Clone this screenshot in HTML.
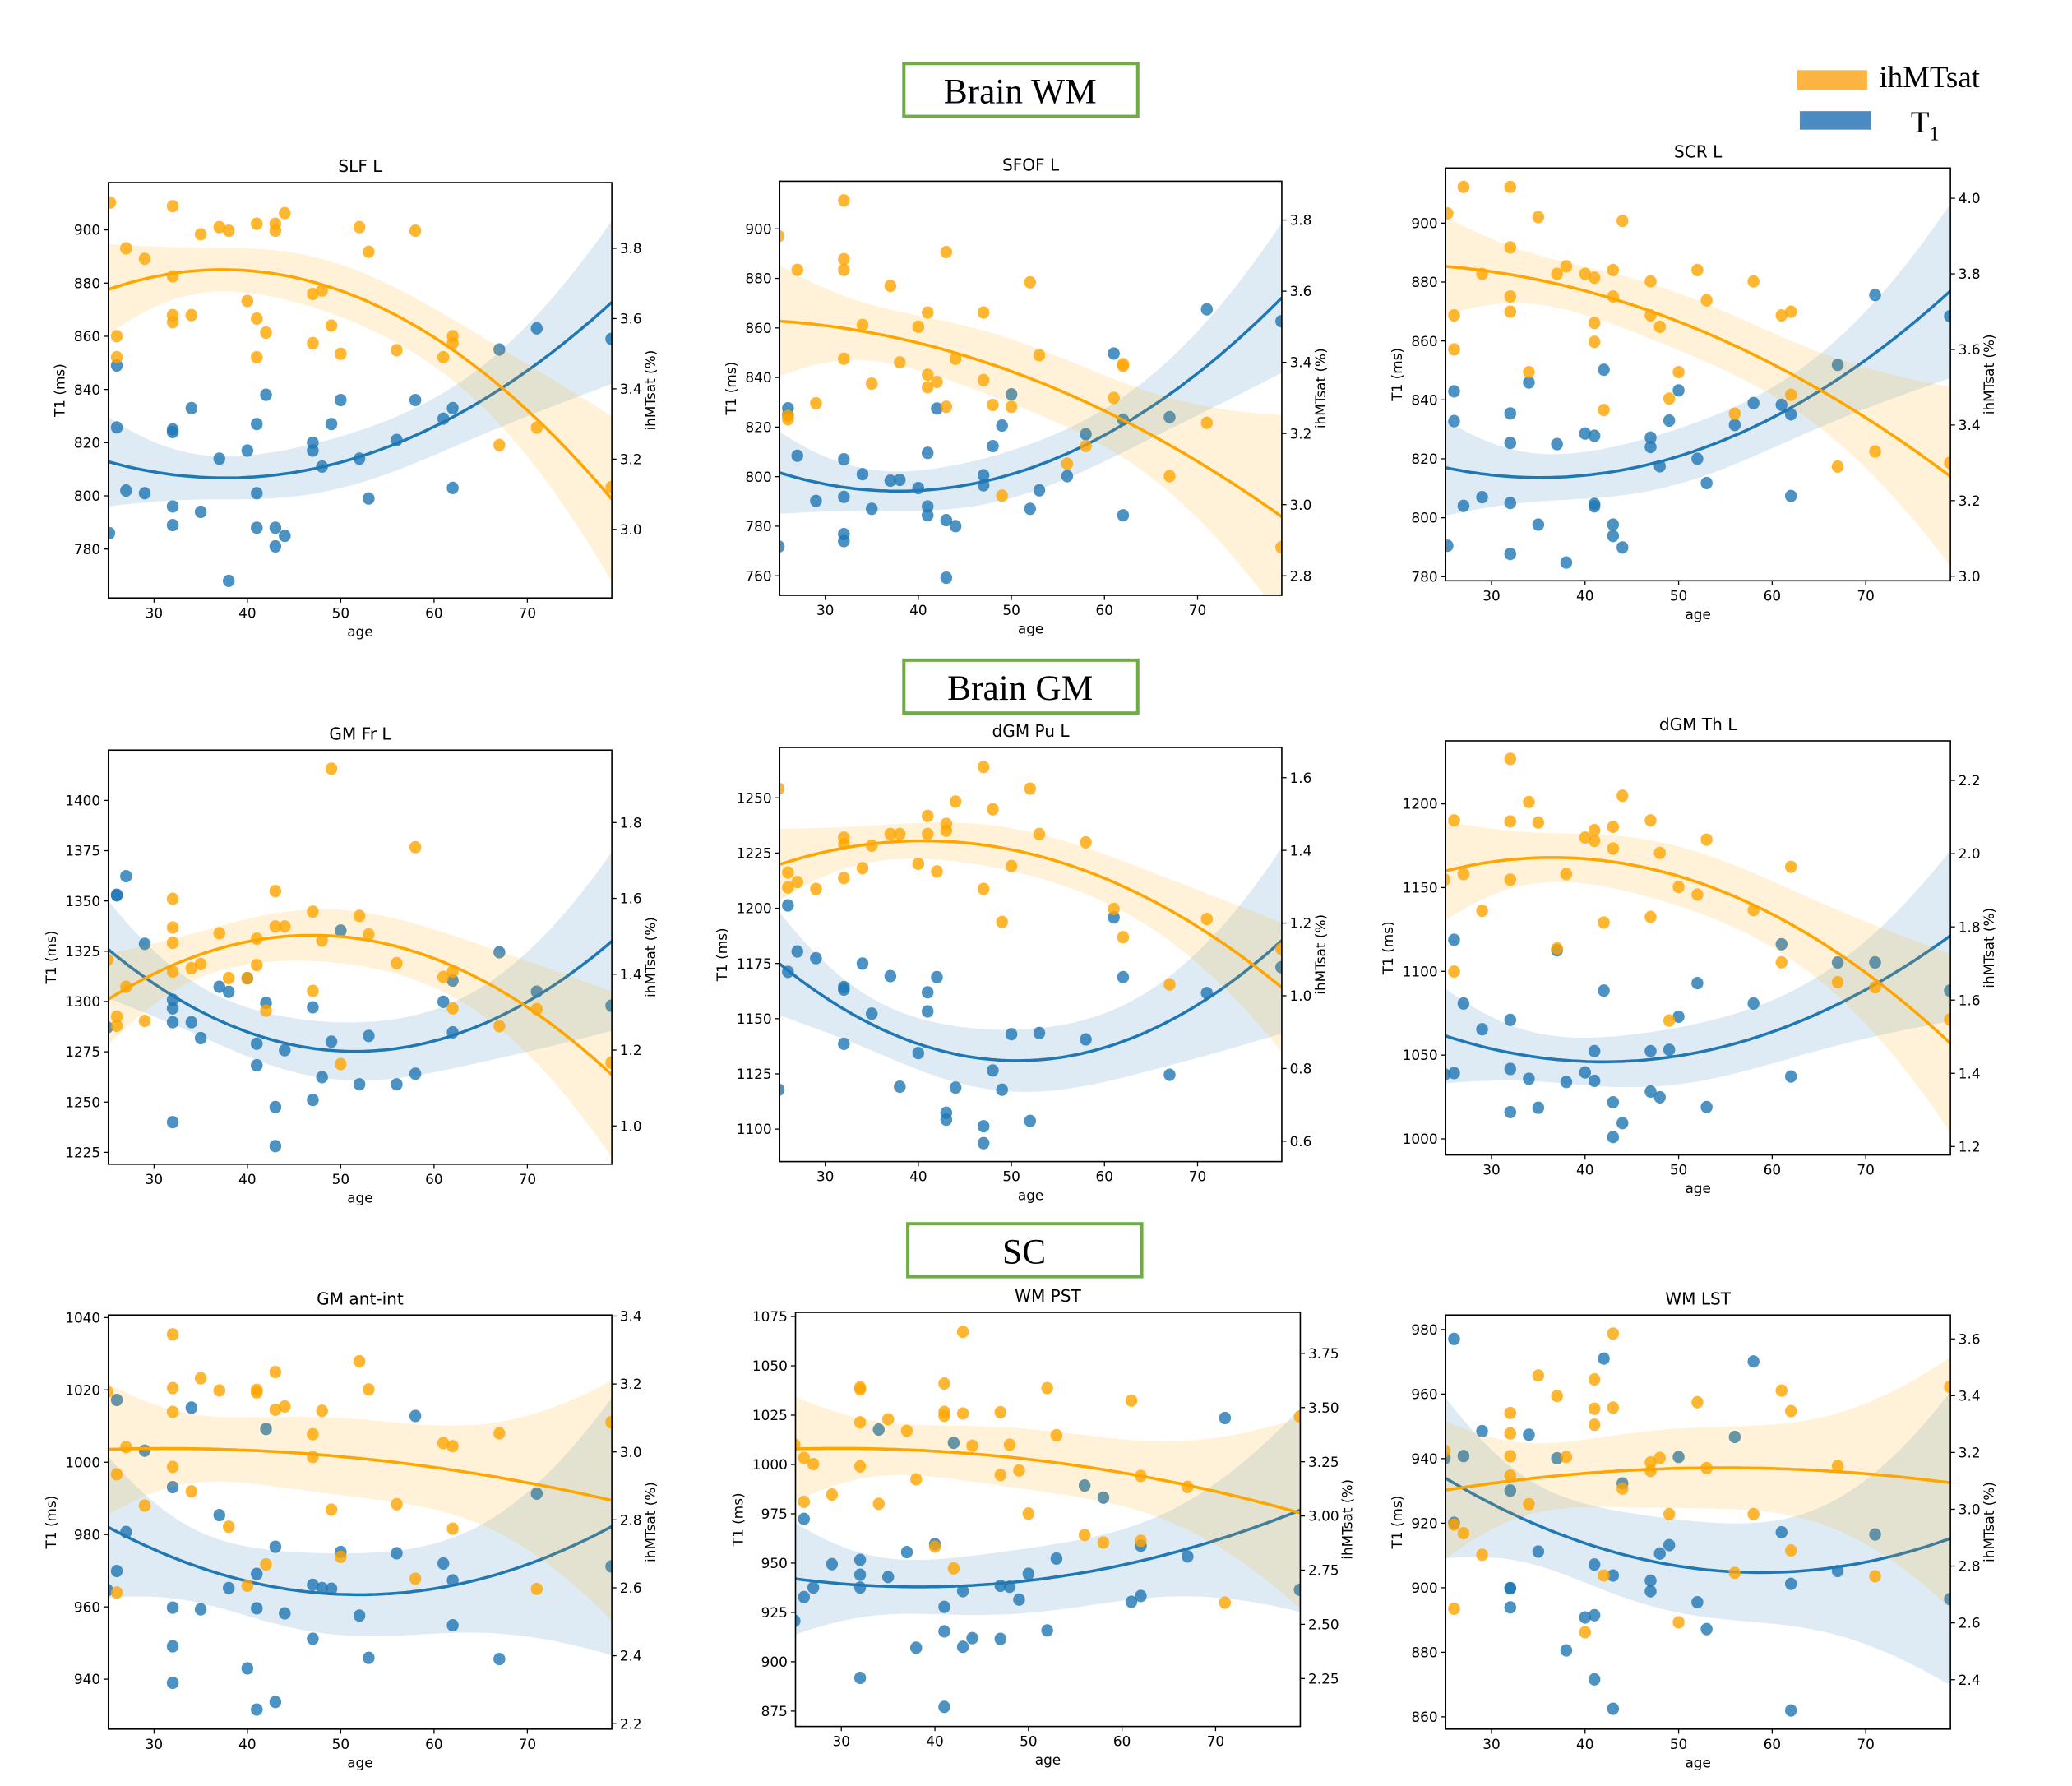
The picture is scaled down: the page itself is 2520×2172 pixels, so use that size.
<!DOCTYPE html>
<html><head><meta charset="utf-8"><style>
html,body{margin:0;padding:0;background:#fff;}
svg{display:block;}
text{font-family:"DejaVu Sans","Liberation Sans",sans-serif;fill:#000;}
.serif{font-family:"Liberation Serif",serif;}
</style></head><body>
<svg id="fig" width="2520" height="2172" viewBox="0 0 1568 1350" preserveAspectRatio="none" xmlns="http://www.w3.org/2000/svg">
<rect x="0" y="0" width="1568" height="1350" fill="#fff"/>
<g><rect x="684" y="48" width="177" height="40" fill="#fff" stroke="#6fac46" stroke-width="2.5"/><text class="serif" x="772" y="78" font-size="27" text-anchor="middle">Brain WM</text></g>
<g><rect x="684" y="499" width="177" height="40" fill="#fff" stroke="#6fac46" stroke-width="2.5"/><text class="serif" x="772" y="529" font-size="27" text-anchor="middle">Brain GM</text></g>
<g><rect x="687" y="925" width="177" height="40" fill="#fff" stroke="#6fac46" stroke-width="2.5"/><text class="serif" x="775" y="955" font-size="27" text-anchor="middle">SC</text></g>
<g>
<g><rect x="1360" y="53" width="53" height="15" fill="#fbb540"/><text class="serif" x="1422" y="66" font-size="23">ihMTsat</text></g>
<g><rect x="1362" y="84" width="54" height="14" fill="#4a8cc2"/><text class="serif" x="1446" y="100" font-size="23">T<tspan font-size="15" dy="6">1</tspan></text></g>
</g>
<g id="plots"></g>
</svg>
<script>
// ---------- data: [age, value] ----------
const slfT1=[[26,849],[26,825.7],[25.2,786],[27,802],[29,801],[32,825],[32,824],[32,796],[32,789],[34,833],[35,794],[37,814],[38,768],[40,817],[41,827],[41,801],[41,788],[42,838],[43,788],[43,781],[44,785],[47,820],[47,817],[48,811],[49,827],[50,836],[52,814],[53,799],[56,821],[58,836],[61,829],[62,833],[62,803],[67,855],[71,863],[79,859]];
const slfMT=[[25.3,3.93],[32,3.92],[27,3.80],[29,3.77],[35,3.84],[37,3.86],[38,3.85],[41,3.87],[43,3.87],[43,3.85],[44,3.90],[52,3.86],[53,3.79],[58,3.85],[32,3.72],[47,3.67],[48,3.68],[40,3.65],[32,3.61],[32,3.59],[34,3.61],[41,3.60],[42,3.56],[26,3.55],[26,3.49],[49,3.58],[47,3.53],[50,3.50],[41,3.49],[56,3.51],[61,3.49],[62,3.55],[62,3.53],[67,3.24],[71,3.29],[79,3.12]];
const sfofT1=[[25,771.8],[26,827.6],[26,825],[27,808.4],[29,790.2],[32,807],[32,791.8],[32,776.8],[32,774],[34,801],[35,787],[37,798.4],[38,798.7],[40,795.4],[41,809.6],[41,788],[41,784.4],[42,827.5],[43,782.4],[43,759.2],[44,780],[47,800.6],[47,796.5],[48,812.3],[49,820.6],[50,833.2],[52,787],[53,794.5],[56,800.2],[58,817.1],[61,849.7],[62,823],[62,784.4],[67,824],[71,867.5],[79,862.7]];
const sfofMT=[[25,3.755],[32,3.855],[26,3.25],[26,3.24],[27,3.66],[29,3.285],[32,3.69],[32,3.66],[32,3.41],[34,3.505],[35,3.34],[37,3.615],[38,3.40],[40,3.50],[41,3.54],[41,3.365],[41,3.33],[42,3.345],[43,3.71],[43,3.275],[44,3.41],[47,3.54],[47,3.35],[48,3.28],[49,3.025],[50,3.275],[52,3.625],[53,3.42],[56,3.115],[58,3.165],[61,3.30],[62,3.395],[62,3.39],[67,3.08],[71,3.23],[79,2.88]];
const scrT1=[[26,842.9],[26,832.8],[25.3,790.5],[27,804],[29,807],[32,835.4],[32,825.4],[32,805],[32,787.7],[34,845.9],[35,797.7],[37,825],[38,784.8],[40,828.6],[41,827.8],[41,804.7],[41,803.9],[42,850.2],[43,797.7],[43,793.8],[44,789.9],[47,827.2],[47,824],[48,817.5],[49,833],[50,843.2],[52,820],[53,811.8],[56,831.5],[58,838.9],[61,838.3],[62,835.1],[62,807.4],[67,851.9],[71,875.6],[79,868.4]];
const scrMT=[[25.3,3.96],[27,4.03],[32,4.03],[35,3.95],[44,3.94],[32,3.87],[29,3.80],[37,3.80],[38,3.82],[40,3.80],[41,3.79],[43,3.81],[52,3.81],[47,3.78],[58,3.78],[32,3.74],[43,3.74],[53,3.73],[32,3.70],[26,3.69],[47,3.69],[48,3.66],[41,3.67],[41,3.62],[26,3.60],[61,3.69],[62,3.70],[34,3.54],[50,3.54],[49,3.47],[62,3.48],[42,3.44],[56,3.43],[71,3.33],[67,3.29],[79,3.30]];
const gmfrT1=[[25,1287.1],[26,1353.1],[26,1352.8],[27,1362.3],[29,1328.7],[32,1300.9],[32,1296.6],[32,1289.7],[32,1240],[34,1289.7],[35,1281.8],[37,1307.3],[38,1304.8],[40,1311.6],[41,1279],[41,1268.3],[42,1299.3],[43,1247.5],[43,1228.1],[44,1275.8],[47,1297.1],[47,1251.1],[48,1262.4],[49,1280],[50,1335.3],[52,1258.8],[53,1282.9],[56,1258.8],[58,1264.1],[61,1299.9],[62,1310.4],[62,1284.7],[67,1324.5],[71,1304.9],[79,1297.9]];
const gmfrMT=[[25,1.438],[26,1.288],[26,1.264],[27,1.367],[29,1.277],[32,1.599],[32,1.523],[32,1.483],[32,1.407],[34,1.416],[35,1.427],[37,1.508],[38,1.39],[40,1.39],[41,1.494],[41,1.424],[42,1.304],[43,1.619],[43,1.526],[44,1.526],[47,1.565],[47,1.356],[48,1.489],[49,1.942],[50,1.163],[52,1.554],[53,1.505],[56,1.429],[58,1.735],[61,1.393],[62,1.407],[62,1.31],[67,1.263],[71,1.308],[79,1.167]];
const puT1=[[25,1117.8],[26,1201.3],[26,1171.2],[27,1180.4],[29,1177.4],[32,1164.3],[32,1163.2],[32,1138.6],[34,1175],[35,1152.3],[37,1169.3],[38,1119.2],[40,1134.4],[41,1161.9],[41,1153.3],[42,1168.8],[43,1107.4],[43,1104.3],[44,1118.8],[47,1101.3],[47,1093.6],[48,1126.6],[49,1117.8],[50,1143],[52,1103.7],[53,1143.5],[58,1140.6],[61,1195.9],[62,1168.8],[67,1124.6],[71,1161.6],[79,1173.3]];
const puMT=[[25,1.570],[26,1.339],[26,1.298],[27,1.313],[29,1.294],[32,1.435],[32,1.417],[32,1.324],[34,1.351],[35,1.413],[37,1.445],[38,1.445],[40,1.363],[41,1.495],[41,1.445],[42,1.342],[43,1.473],[43,1.454],[44,1.534],[47,1.629],[47,1.294],[48,1.513],[49,1.203],[50,1.357],[52,1.570],[53,1.445],[58,1.422],[61,1.239],[62,1.161],[67,1.031],[71,1.211],[79,1.129]];
const thT1=[[25,1038.5],[26,1118.8],[26,1039.3],[27,1080.8],[29,1065.4],[32,1071],[32,1041.7],[32,1016],[34,1035.9],[35,1018.6],[37,1112.6],[38,1034],[40,1039.7],[41,1052.4],[41,1034.6],[42,1088.5],[43,1021.8],[43,1001.1],[44,1009.4],[47,1052.4],[47,1028.2],[48,1024.8],[49,1053.2],[50,1072.9],[52,1093],[53,1019],[58,1080.8],[61,1116.2],[62,1037.2],[67,1105.3],[71,1105.3],[79,1088.5]];
const thMT=[[25,1.929],[26,2.091],[26,1.678],[27,1.944],[29,1.844],[32,2.259],[32,2.088],[32,1.929],[34,2.141],[35,2.085],[37,1.741],[38,1.944],[40,2.044],[41,2.064],[41,2.035],[42,1.812],[43,2.073],[43,2.014],[44,2.158],[47,2.091],[47,1.827],[48,2.002],[49,1.544],[50,1.909],[52,1.888],[53,2.038],[58,1.846],[61,1.703],[62,1.964],[67,1.649],[71,1.635],[79,1.547]];
const antT1=[[25,964.6],[26,1017.2],[26,969.9],[27,980.7],[29,1003.2],[32,993.1],[32,959.8],[32,949.1],[32,939],[34,1015.1],[35,959.3],[37,985.4],[38,965.2],[40,943],[41,969.1],[41,959.6],[41,931.6],[42,1009.2],[43,976.6],[43,933.7],[44,958.2],[47,966.1],[47,951.2],[48,965.2],[49,965],[50,975.2],[52,957.6],[53,945.9],[56,974.8],[58,1012.8],[61,972],[62,967.3],[62,954.9],[67,945.6],[71,991.3],[79,971.2]];
const antMT=[[25,3.177],[26,2.934],[26,2.586],[27,3.014],[29,2.842],[32,3.346],[32,3.188],[32,3.118],[32,2.956],[34,2.884],[35,3.217],[37,3.181],[38,2.780],[40,2.606],[41,3.183],[41,3.175],[42,2.669],[43,3.235],[43,3.124],[44,3.134],[47,3.052],[47,2.985],[48,3.121],[49,2.830],[50,2.691],[52,3.267],[53,3.184],[56,2.846],[58,2.627],[61,3.026],[62,3.017],[62,2.774],[67,3.055],[71,2.597],[79,3.087]];
const pstT1=[[25,920.7],[26,972.4],[26,932.8],[27,937.6],[29,949.5],[32,951.6],[32,944.1],[32,937.6],[32,891.8],[34,1017.7],[35,943],[37,955.6],[38,907.1],[40,959.6],[41,927.8],[41,915.4],[41,877.1],[42,1011],[43,935.8],[43,907.6],[44,912],[47,938.5],[47,911.6],[48,938],[49,931.5],[50,944.6],[52,915.9],[53,952.3],[56,989.3],[58,983.2],[61,930.4],[62,958.8],[62,933.3],[67,953.4],[71,1023.6],[79,936.5]];
const pstMT=[[25,3.329],[26,3.268],[26,3.065],[27,3.239],[29,3.099],[32,3.593],[32,3.584],[32,3.432],[32,3.229],[34,3.056],[35,3.446],[37,3.393],[38,3.169],[40,2.858],[41,3.611],[41,3.48],[41,3.462],[42,2.758],[43,3.849],[43,3.473],[44,3.324],[47,3.478],[47,3.189],[48,3.329],[49,3.21],[50,3.011],[52,3.59],[53,3.372],[56,2.912],[58,2.877],[61,3.532],[62,3.185],[62,2.885],[67,3.134],[71,2.6],[79,3.458]];
const lstT1=[[25,940.1],[26,977.1],[26,920.1],[27,940.8],[29,948.5],[32,930.1],[32,899.9],[32,899.8],[32,893.9],[34,947.4],[35,911.2],[37,940.1],[38,880.6],[40,890.8],[41,907.2],[41,891.5],[41,871.6],[42,971],[43,903.8],[43,862.5],[44,932.3],[47,902.2],[47,898.9],[48,910.6],[49,913.2],[50,940.5],[52,895.5],[53,887.2],[56,946.7],[58,970.1],[61,917.2],[62,901.2],[62,862],[67,905.2],[71,916.5],[79,896.5]];
const lstMT=[[25,3.206],[26,2.946],[26,2.65],[27,2.916],[29,2.84],[32,3.339],[32,3.267],[32,3.187],[32,3.118],[34,3.018],[35,3.471],[37,3.399],[38,3.184],[40,2.567],[41,3.457],[41,3.354],[41,3.298],[42,2.767],[43,3.619],[43,3.358],[44,3.073],[47,3.165],[47,3.135],[48,3.181],[49,2.983],[50,2.602],[52,3.377],[53,3.145],[56,2.776],[58,2.983],[61,3.418],[62,3.346],[62,2.855],[67,3.152],[71,2.764],[79,3.431]];
// ---------- tick labels ----------
const ageTicks=[30,40,50,60,70];
const slfT1Ticks=[780,800,820,840,860,880,900], slfMTTicks=["3.0","3.2","3.4","3.6","3.8"];
const sfofT1Ticks=[760,780,800,820,840,860,880,900], sfofMTTicks=["2.8","3.0","3.2","3.4","3.6","3.8"];
const scrT1Ticks=[780,800,820,840,860,880,900], scrMTTicks=["3.0","3.2","3.4","3.6","3.8","4.0"];
const gmfrT1Ticks=[1225,1250,1275,1300,1325,1350,1375,1400], gmfrMTTicks=["1.0","1.2","1.4","1.6","1.8"];
const puT1Ticks=[1100,1125,1150,1175,1200,1225,1250], puMTTicks=["0.6","0.8","1.0","1.2","1.4","1.6"];
const thT1Ticks=[1000,1050,1100,1150,1200], thMTTicks=["1.2","1.4","1.6","1.8","2.0","2.2"];
const antT1Ticks=[940,960,980,1000,1020,1040], antMTTicks=["2.2","2.4","2.6","2.8","3.0","3.2","3.4"];
const pstT1Ticks=[875,900,925,950,975,1000,1025,1050,1075], pstMTTicks=["2.25","2.50","2.75","3.00","3.25","3.50","3.75"];
const lstT1Ticks=[860,880,900,920,940,960,980], lstMTTicks=["2.4","2.6","2.8","3.0","3.2","3.4","3.6"];
const titles=["SLF L","SFOF L","SCR L","GM Fr L","dGM Pu L","dGM Th L","GM ant-int","WM PST","WM LST"];

// ---------- layout (not data) ----------
const AGE_DOM=[25.1,79.05];
const panels=[
 {key:"slf",box:[82,138,463,452],t1:slfT1,mt:slfMT,t1d:[761.6,917.8],mtd:[2.805,3.987],t1t:slfT1Ticks,mtt:slfMTTicks},
 {key:"sfof",box:[590,137,970,450],t1:sfofT1,mt:sfofMT,t1d:[752.1,919.2],mtd:[2.745,3.909],t1t:sfofT1Ticks,mtt:sfofMTTicks},
 {key:"scr",box:[1094,127,1476,439],t1:scrT1,mt:scrMT,t1d:[778.6,918.7],mtd:[2.988,4.080],t1t:scrT1Ticks,mtt:scrMTTicks},
 {key:"gmfr",box:[82,567,463,880],t1:gmfrT1,mt:gmfrMT,t1d:[1219.1,1425.0],mtd:[0.899,1.991],t1t:gmfrT1Ticks,mtt:gmfrMTTicks},
 {key:"pu",box:[590,565,970,878],t1:puT1,mt:puMT,t1d:[1085.3,1272.8],mtd:[0.544,1.683],t1t:puT1Ticks,mtt:puMTTicks},
 {key:"th",box:[1094,560,1476,873],t1:thT1,mt:thMT,t1d:[990.4,1237.6],mtd:[1.177,2.308],t1t:thT1Ticks,mtt:thMTTicks},
 {key:"ant",box:[82,994,463,1307],t1:antT1,mt:antMT,t1d:[926.2,1040.7],mtd:[2.184,3.403],t1t:antT1Ticks,mtt:antMTTicks},
 {key:"pst",box:[602,992,984,1305],t1:pstT1,mt:pstMT,t1d:[867.2,1077.1],mtd:[2.029,3.939],t1t:pstT1Ticks,mtt:pstMTTicks},
 {key:"lst",box:[1094,994,1476,1307],t1:lstT1,mt:lstMT,t1d:[856.2,984.5],mtd:[2.226,3.684],t1t:lstT1Ticks,mtt:lstMTTicks}
];
const NS="http://www.w3.org/2000/svg";
function mk(tag,attrs,parent){const e=document.createElementNS(NS,tag);for(const k in attrs)e.setAttribute(k,attrs[k]);if(parent)parent.appendChild(e);return e;}
function fit(pts){
 const n=pts.length;const M=[[0,0,0],[0,0,0],[0,0,0]],b=[0,0,0];
 const f=a=>{const u=(a-50)/10;return [1,u,u*u];};
 pts.forEach(([a,y])=>{const x=f(a);for(let i=0;i<3;i++){b[i]+=x[i]*y;for(let j=0;j<3;j++)M[i][j]+=x[i]*x[j];}});
 const inv=inv3(M);const beta=[0,1,2].map(i=>inv[i][0]*b[0]+inv[i][1]*b[1]+inv[i][2]*b[2]);
 let sse=0;pts.forEach(([a,y])=>{const x=f(a);const p=beta[0]*x[0]+beta[1]*x[1]+beta[2]*x[2];sse+=(y-p)*(y-p);});
 const s2=sse/(n-3);
 return a=>{const x=f(a);const p=beta[0]*x[0]+beta[1]*x[1]+beta[2]*x[2];let v=0;for(let i=0;i<3;i++)for(let j=0;j<3;j++)v+=x[i]*inv[i][j]*x[j];return [p,2.15*Math.sqrt(s2*v)];};
}
function inv3(m){const[a,b,c]=m[0],[d,e,f]=m[1],[g,h,i]=m[2];const A=e*i-f*h,B=-(d*i-f*g),C=d*h-e*g;const det=a*A+b*B+c*C;
 return [[A/det,-(b*i-c*h)/det,(b*f-c*e)/det],[B/det,(a*i-c*g)/det,-(a*f-c*d)/det],[C/det,-(a*h-b*g)/det,(a*e-b*d)/det]];}
const root=document.getElementById("plots");
panels.forEach((P,pi)=>{
 const [x0,y0,x1,y1]=P.box;
 const g=mk("g",{},root);
 
 
 const xs=a=>x0+(a-AGE_DOM[0])/(AGE_DOM[1]-AGE_DOM[0])*(x1-x0);
 const yl=v=>y1-(v-P.t1d[0])/(P.t1d[1]-P.t1d[0])*(y1-y0);
 const yr=v=>y1-(v-P.mtd[0])/(P.mtd[1]-P.mtd[0])*(y1-y0);
 const cid="clip"+pi;const cp=mk("clipPath",{id:cid},g);mk("rect",{x:x0,y:y0,width:x1-x0,height:y1-y0},cp);
 const plot=mk("g",{"clip-path":"url(#"+cid+")"},g);
 [["t1",P.t1,yl,"#1f77b4","#1f77b4"],["mt",P.mt,yr,"#ffa500","#ffa500"]].forEach(([nm,pts,ys,lc,pc])=>{
  const F=fit(pts);let up=[],lo=[],ln=[];
  for(let k=0;k<=100;k++){const a=AGE_DOM[0]+(AGE_DOM[1]-AGE_DOM[0])*k/100;const[p,h]=F(a);up.push(xs(a).toFixed(1)+","+ys(p+h).toFixed(1));lo.unshift(xs(a).toFixed(1)+","+ys(p-h).toFixed(1));ln.push(xs(a).toFixed(1)+","+ys(p).toFixed(1));}
  const band=mk("polygon",{points:up.concat(lo).join(" "),fill:lc,"fill-opacity":"0.15",stroke:"none"},plot);
  
  
  pts.forEach(([a,v])=>{const c=mk("ellipse",{cx:xs(a).toFixed(1),cy:ys(v).toFixed(1),rx:4.5,ry:4.7,fill:pc,"fill-opacity":"0.8"},plot);
   
   });
  const l=mk("polyline",{points:ln.join(" "),fill:"none",stroke:lc,"stroke-width":"2.2"},plot);
  
  
 });
 const fr=mk("rect",{x:x0,y:y0,width:x1-x0,height:y1-y0,fill:"none",stroke:"#000","stroke-width":"1"},g);
 
 
 const t=mk("text",{x:(x0+x1)/2,y:y0-8,"font-size":"12.5","text-anchor":"middle"},g);t.textContent=titles[pi];
 
 
 ageTicks.forEach(a=>{const x=xs(a);mk("line",{x1:x,x2:x,y1:y1,y2:y1+3.5,stroke:"#000","stroke-width":"0.8"},g);
  const tx=mk("text",{x:x,y:y1+15,"font-size":"10.5","text-anchor":"middle"},g);tx.textContent=a;
  
  });
 const xl=mk("text",{x:(x0+x1)/2,y:y1+29,"font-size":"10.5","text-anchor":"middle"},g);xl.textContent="age";
 
 
 let maxw=0;
 P.t1t.forEach(v=>{const y=yl(v);mk("line",{x1:x0-3.5,x2:x0,y1:y,y2:y,stroke:"#000","stroke-width":"0.8"},g);
  const tx=mk("text",{x:x0-6,y:y+3.8,"font-size":"10.5","text-anchor":"end"},g);tx.textContent=v;maxw=Math.max(maxw,String(v).length);
  
  });
 const lx=x0-6-maxw*6.7-7;
 const yt=mk("text",{x:lx,y:(y0+y1)/2,"font-size":"10.5","text-anchor":"middle",transform:"rotate(-90 "+lx+" "+(y0+y1)/2+")"},g);yt.textContent="T1 (ms)";
 
 
 let maxr=0;
 P.mtt.forEach(s=>{const y=yr(parseFloat(s));mk("line",{x1:x1,x2:x1+3.5,y1:y,y2:y,stroke:"#000","stroke-width":"0.8"},g);
  const tx=mk("text",{x:x1+6,y:y+3.8,"font-size":"10.5"},g);tx.textContent=s;maxr=Math.max(maxr,s.length);
  
  });
 const rx=x1+6+maxr*6.3+8;
 const rt=mk("text",{x:rx,y:(y0+y1)/2,"font-size":"10.5","text-anchor":"middle",transform:"rotate(-90 "+rx+" "+(y0+y1)/2+")"},g);rt.textContent="ihMTsat (%)";
 
 
});
</script>
</body></html>
